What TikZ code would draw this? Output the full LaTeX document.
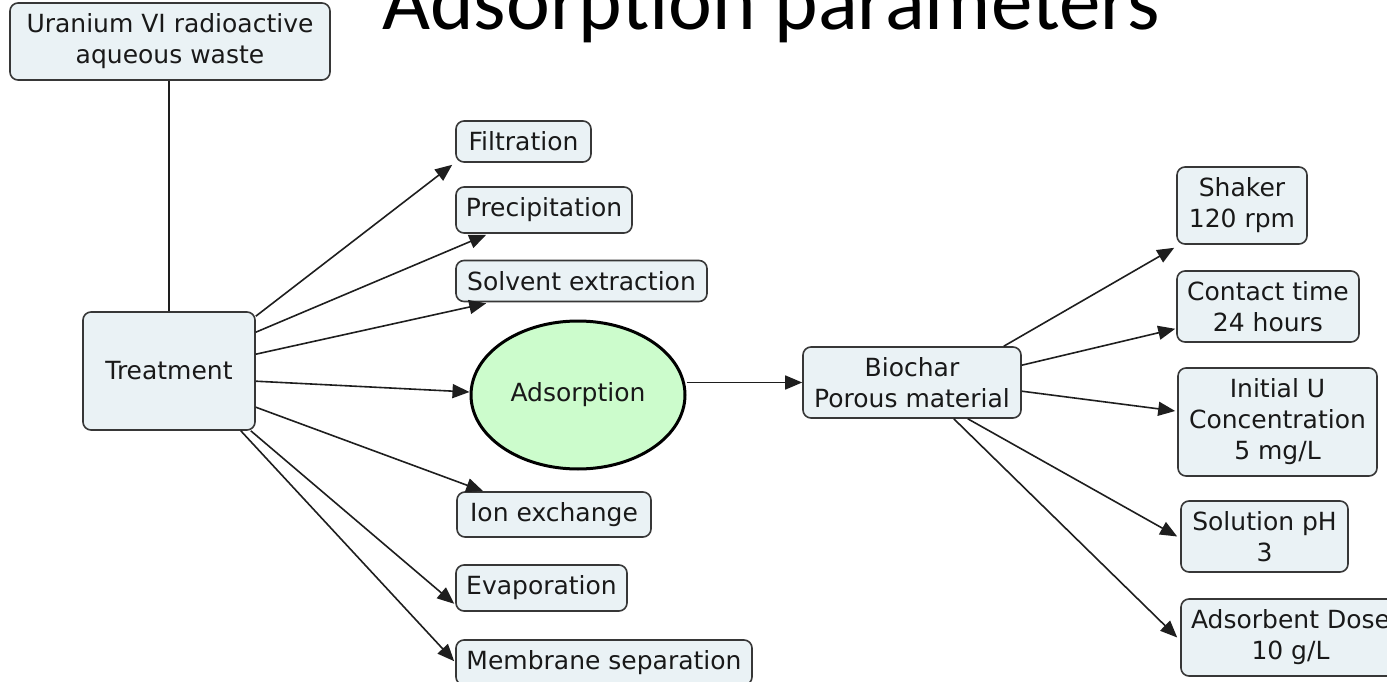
\documentclass[tikz,border=0pt]{standalone}
\usepackage{fontspec}
\setmainfont{DejaVu Sans}
\newfontfamily\titlefont{Carlito}
\usetikzlibrary{arrows.meta,calc,shapes.geometric}
\definecolor{boxfill}{RGB}{234,242,245}
\definecolor{boxdraw}{RGB}{55,55,55}
\definecolor{adsfill}{RGB}{204,252,204}
\definecolor{linecol}{RGB}{30,30,30}
\definecolor{textcol}{RGB}{25,25,25}
\begin{document}
\begin{tikzpicture}[x=1pt,y=-1pt,
  box/.style={draw=boxdraw, fill=boxfill, line width=1.6pt, rounded corners=8pt,
    inner sep=0pt, align=center, text=textcol, font=\fontsize{25}{31}\selectfont},
  adsnode/.style={ellipse, draw=black, line width=3pt, fill=adsfill, inner sep=0pt,
    text=textcol, font=\fontsize{25}{31}\selectfont},
  link/.style={draw=linecol, line width=1.6pt},
  arr/.style={link, -{Triangle[length=17pt,width=14pt]}}
]
\useasboundingbox (0,0) rectangle (1387,682);

% title
\node[anchor=base west, inner sep=0pt, font=\titlefont\fontsize{83}{90}\selectfont] (title) at (382,30) {Adsorption parameters};

% nodes
\node[box, minimum width=320pt, minimum height=77pt] (waste) at (170,41.5) {Uranium VI radioactive\\aqueous waste};
\node[box, minimum width=172pt, minimum height=118pt] (treat) at (169,371) {Treatment};

\node[box, minimum width=135pt, minimum height=41pt] (filt) at (523.5,141.5) {Filtration};
\node[box, minimum width=176pt, minimum height=46pt] (precip) at (544,210) {Precipitation};
\node[box, minimum width=251pt, minimum height=41pt] (solv) at (581.5,281) {Solvent extraction};
\node[adsnode, minimum width=214pt, minimum height=148pt] (ads) at (578,395) {Adsorption};
\node[box, minimum width=194pt, minimum height=45pt] (ion) at (554,514.5) {Ion exchange};
\node[box, minimum width=171pt, minimum height=46pt] (evap) at (541.5,588) {Evaporation};
\node[box, minimum width=296pt, minimum height=45pt] (memb) at (604,662.5) {Membrane separation};

\node[box, minimum width=218pt, minimum height=71pt] (bio) at (912,382.5) {Biochar\\Porous material};

\node[box, minimum width=130pt, minimum height=77pt] (shaker) at (1242,205.5) {Shaker\\120 rpm};
\node[box, minimum width=182pt, minimum height=71pt] (contact) at (1268,306.5) {Contact time\\24 hours};
\node[box, minimum width=199pt, minimum height=108pt] (initu) at (1277.5,422) {Initial U\\Concentration\\5 mg/L};
\node[box, minimum width=167pt, minimum height=71pt] (ph) at (1264.5,536.5) {Solution pH\\3};
\node[box, minimum width=219pt, minimum height=77pt] (dose) at (1290.5,637.5) {Adsorbent Dose\\10 g/L};

% connectors
\draw[link] (treat.north) -- (treat.north |- waste.south);

\draw[arr] ($(treat.north east)+(0,5)$)  -- ($(filt.south west)+(-3,2)$);
\draw[arr] ($(treat.north east)+(0,21)$) -- ($(precip.south west)+(31,1)$);
\draw[arr] ($(treat.north east)+(0,43)$) -- ($(solv.south west)+(31,1)$);
\draw[arr] ($(treat.north east)+(0,70)$) -- ($(ads.west)+(0,-3)$);
\draw[arr] ($(treat.north east)+(0,96)$) -- ($(ion.north west)+(27,0)$);
\draw[arr] ($(treat.south east)+(-5,0)$) -- ($(evap.south west)+(-1,-8)$);
\draw[arr] ($(treat.south east)+(-15,0)$) -- ($(memb.north west)+(-1,22)$);

\draw[arr] (ads.east |- bio.west) -- (bio.west);

\draw[arr] ($(bio.north east)+(-18,0)$) -- ($(shaker.south west)+(-2,3)$);
\draw[arr] ($(bio.north east)+(0,19)$)  -- ($(contact.south west)+(-1,-14)$);
\draw[arr] ($(bio.north east)+(0,45)$)  -- ($(initu.west)+(-2,-11)$);
\draw[arr] ($(bio.south east)+(-54,0)$) -- ($(ph.west)+(-3,0)$);
\draw[arr] ($(bio.south east)+(-68,0)$) -- ($(dose.west)+(-3,0)$);
\end{tikzpicture}
\end{document}
